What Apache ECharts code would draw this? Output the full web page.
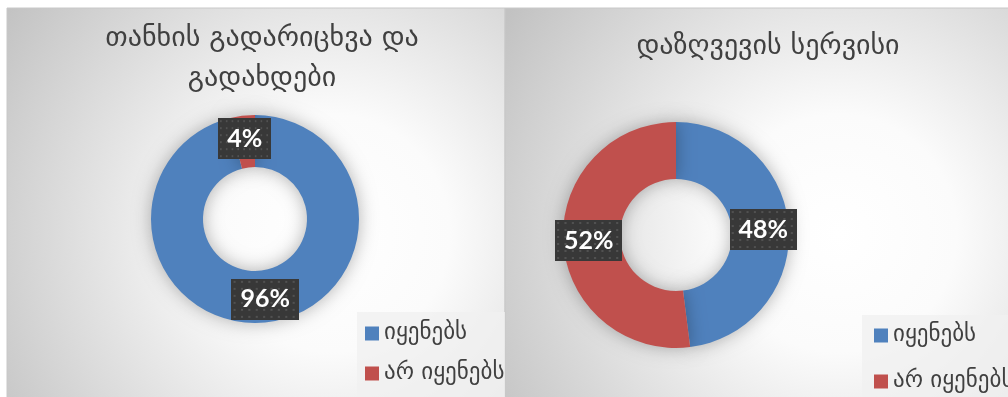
<!DOCTYPE html>
<html>
<head>
<meta charset="utf-8">
<script src="https://cdn.jsdelivr.net/npm/echarts@6/dist/echarts.min.js"></script>
<style>
  html, body { margin: 0; padding: 0; background: #ffffff; }
  #chart { width: 1008px; height: 397px; }
</style>
</head>
<body>
<div id="chart"></div>
<script>
// Legend categories shared by both doughnuts
const categories = ['იყენებს', 'არ იყენებს'];

// Money transfers & payments (percent)
const transferValues = [96, 4];
// Insurance service (percent)
const insuranceValues = [48, 52];

const titles = ['თანხის გადარიცხვა და\nგადახდები', 'დაზღვევის სერვისი'];

const colors = ['#4f81bd', '#c0504d'];
const geoFont = '"DejaVu Sans", sans-serif';

// Dark dotted texture used behind the value labels
function dotPattern(w, h) {
  const c = document.createElement('canvas');
  c.width = w; c.height = h;
  const ctx = c.getContext('2d');
  ctx.fillStyle = '#383838';
  ctx.fillRect(0, 0, w, h);
  ctx.fillStyle = '#515151';
  for (let y = 2; y < h; y += 7) {
    for (let x = 2; x < w; x += 7) {
      ctx.fillRect(x, y, 2, 2);
    }
  }
  return c;
}
const labelBg = dotPattern(64, 41);

function panelFill() {
  return {
    type: 'radial', x: 0.65, y: 0.57, r: 1.0,
    colorStops: [
      { offset: 0, color: '#ffffff' },
      { offset: 0.3, color: '#fbfbfb' },
      { offset: 1, color: '#c2c2c2' }
    ]
  };
}

function donut(values, center, radius) {
  return {
    type: 'pie',
    center: center,
    radius: radius,
    startAngle: 90,
    clockwise: true,
    avoidLabelOverlap: false,
    silent: true,
    itemStyle: {
      borderWidth: 0,
      shadowBlur: 18,
      shadowColor: 'rgba(0,0,0,0.3)'
    },
    label: {
      show: true,
      position: 'inside',
      formatter: '{c}%',
      color: '#ffffff',
      fontFamily: 'Lato, "Open Sans", sans-serif',
      fontWeight: 'bold',
      fontSize: 25,
      lineHeight: 25,
      padding: [8, 9],
      backgroundColor: { image: labelBg },
      shadowBlur: 5,
      shadowOffsetX: 3,
      shadowOffsetY: 3,
      shadowColor: 'rgba(0,0,0,0.45)'
    },
    labelLine: { show: false },
    data: categories.map((name, i) => ({ name: name, value: values[i] }))
  };
}

function legend(left, top, gap) {
  return {
    orient: 'vertical',
    left: left,
    top: top,
    height: 120,
    padding: 0,
    icon: 'rect',
    itemWidth: 14,
    itemHeight: 14,
    itemGap: gap,
    selectedMode: false,
    data: categories,
    textStyle: {
      fontFamily: geoFont,
      fontSize: 23,
      color: '#404040'
    }
  };
}

const chart = echarts.init(document.getElementById('chart'), null, { renderer: 'canvas' });

chart.setOption({
  animation: false,
  color: colors,
  graphic: {
    elements: [
      { type: 'rect', z: -10, shape: { x: 7, y: 8, width: 498, height: 395 },
        style: { fill: panelFill(), stroke: '#c8c8c8', lineWidth: 1 } },
      { type: 'rect', z: -10, shape: { x: 505, y: 8, width: 512, height: 395 },
        style: { fill: panelFill(), stroke: '#c8c8c8', lineWidth: 1 } },
      { type: 'rect', z: -9, shape: { x: 357, y: 312, width: 148, height: 90 },
        style: { fill: 'rgba(240,240,240,0.75)' } },
      { type: 'rect', z: -9, shape: { x: 862, y: 315, width: 150, height: 90 },
        style: { fill: 'rgba(240,240,240,0.75)' } }
    ]
  },
  title: [
    {
      text: titles[0], left: 257, top: 14, textAlign: 'center',
      textStyle: { fontFamily: geoFont, fontSize: 28, lineHeight: 40, fontWeight: 'normal', color: '#404040' }
    },
    {
      text: titles[1], left: 763, top: 22, textAlign: 'center',
      textStyle: { fontFamily: geoFont, fontSize: 28, lineHeight: 40, fontWeight: 'normal', color: '#404040' }
    }
  ],
  legend: [legend(365, 322, 17), legend(874, 324, 23)],
  series: [
    donut(transferValues, [255, 219], [52, 104]),
    donut(insuranceValues, [676, 235], [56, 113])
  ]
});
</script>
</body>
</html>
